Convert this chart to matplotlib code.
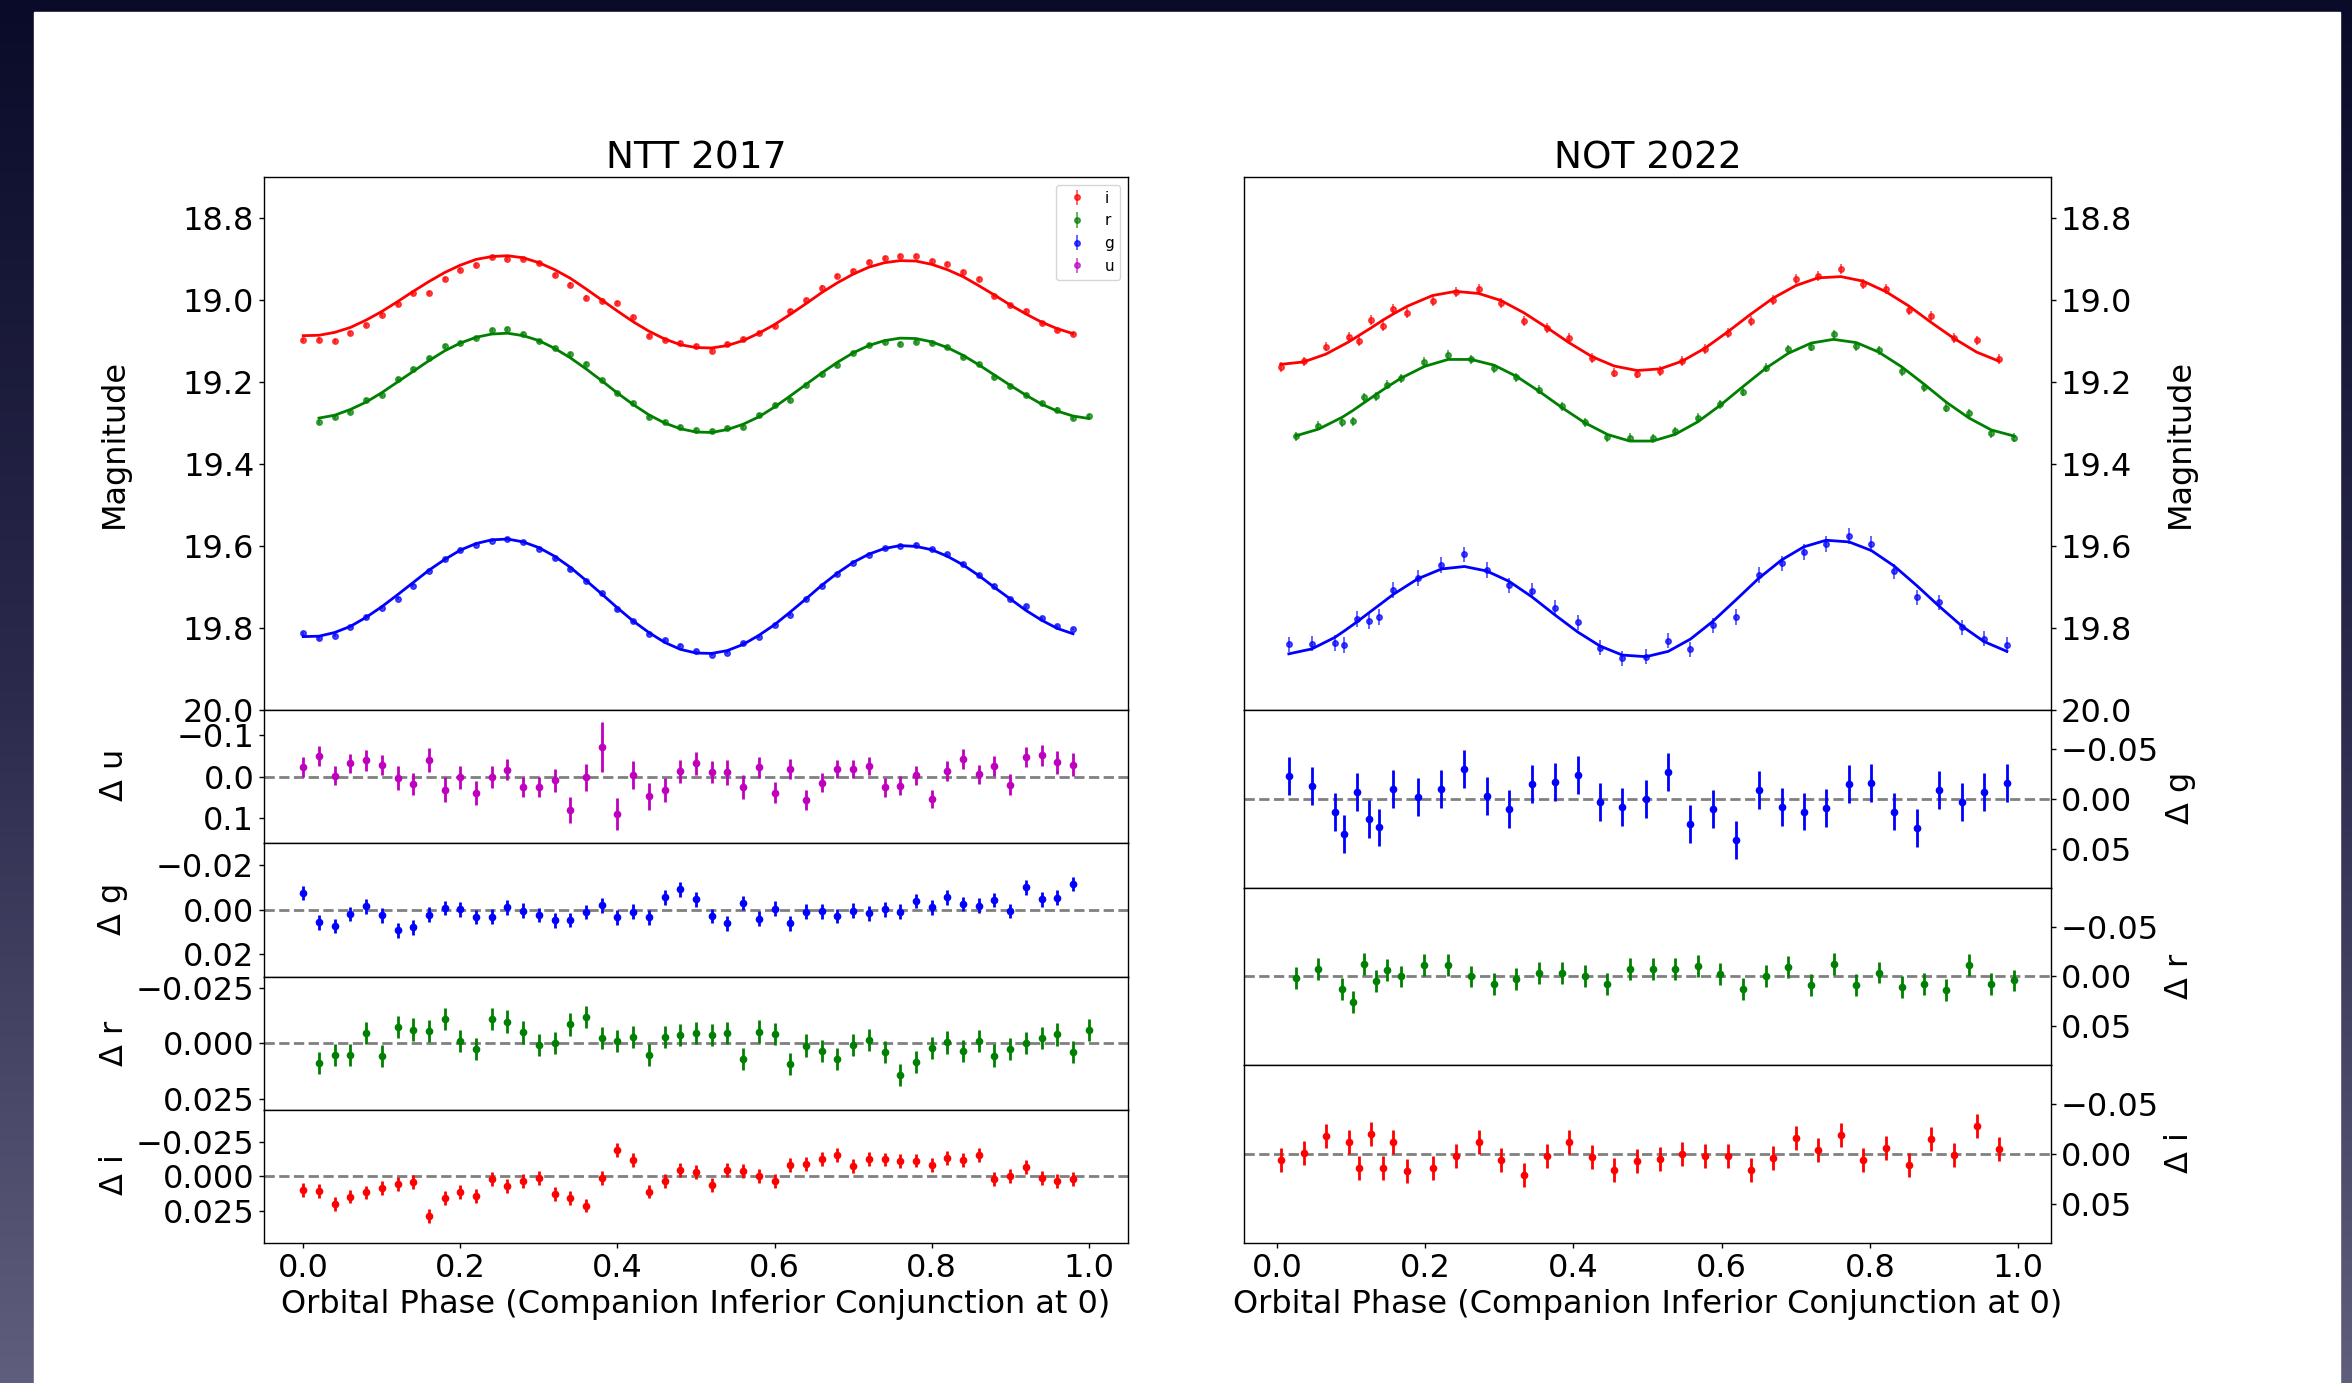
import numpy as np
import matplotlib
matplotlib.use('Agg')
import matplotlib.pyplot as plt
from matplotlib.patches import Rectangle
from matplotlib.colors import LinearSegmentedColormap

# ---------------- NTT 2017 (phase bins of 0.02) ----------------
ntt_phase = [0.00, 0.02, 0.04, 0.06, 0.08, 0.10, 0.12, 0.14, 0.16, 0.18,
             0.20, 0.22, 0.24, 0.26, 0.28, 0.30, 0.32, 0.34, 0.36, 0.38,
             0.40, 0.42, 0.44, 0.46, 0.48, 0.50, 0.52, 0.54, 0.56, 0.58,
             0.60, 0.62, 0.64, 0.66, 0.68, 0.70, 0.72, 0.74, 0.76, 0.78,
             0.80, 0.82, 0.84, 0.86, 0.88, 0.90, 0.92, 0.94, 0.96, 0.98]
# r band bins run 0.02 .. 1.00
ntt_phase_r = [0.02, 0.04, 0.06, 0.08, 0.10, 0.12, 0.14, 0.16, 0.18, 0.20,
               0.22, 0.24, 0.26, 0.28, 0.30, 0.32, 0.34, 0.36, 0.38, 0.40,
               0.42, 0.44, 0.46, 0.48, 0.50, 0.52, 0.54, 0.56, 0.58, 0.60,
               0.62, 0.64, 0.66, 0.68, 0.70, 0.72, 0.74, 0.76, 0.78, 0.80,
               0.82, 0.84, 0.86, 0.88, 0.90, 0.92, 0.94, 0.96, 0.98, 1.00]

ntt_i_model = [19.087, 19.086, 19.079, 19.067, 19.049, 19.028, 19.004, 18.979, 18.955, 18.933,
               18.915, 18.901, 18.894, 18.892, 18.897, 18.909, 18.926, 18.947, 18.973, 19.000,
               19.027, 19.053, 19.076, 19.095, 19.109, 19.116, 19.117, 19.111, 19.099, 19.081,
               19.060, 19.035, 19.009, 18.982, 18.958, 18.937, 18.920, 18.909, 18.904, 18.905,
               18.913, 18.926, 18.943, 18.965, 18.988, 19.012, 19.034, 19.054, 19.070, 19.082]
ntt_r_model = [19.288, 19.281, 19.267, 19.249, 19.226, 19.200, 19.174, 19.148, 19.124, 19.105,
               19.091, 19.083, 19.081, 19.087, 19.099, 19.118, 19.141, 19.168, 19.197, 19.227,
               19.255, 19.280, 19.300, 19.314, 19.322, 19.323, 19.316, 19.303, 19.285, 19.261,
               19.234, 19.206, 19.178, 19.152, 19.129, 19.111, 19.099, 19.093, 19.094, 19.102,
               19.116, 19.135, 19.158, 19.183, 19.208, 19.232, 19.254, 19.271, 19.283, 19.289]
ntt_g_model = [19.821, 19.820, 19.811, 19.796, 19.774, 19.748, 19.719, 19.689, 19.659, 19.633,
               19.610, 19.594, 19.585, 19.583, 19.590, 19.604, 19.625, 19.652, 19.684, 19.717,
               19.751, 19.783, 19.811, 19.835, 19.852, 19.861, 19.862, 19.855, 19.840, 19.818,
               19.792, 19.761, 19.729, 19.696, 19.666, 19.640, 19.620, 19.606, 19.599, 19.601,
               19.609, 19.625, 19.646, 19.672, 19.701, 19.729, 19.757, 19.781, 19.801, 19.814]

# residuals (data - model)
ntt_u_res = [-0.023, -0.049, -0.002, -0.032, -0.039, -0.028, 0.003, 0.018, -0.040, 0.031,
             0.002, 0.039, 0.001, -0.017, 0.026, 0.024, 0.009, 0.080, 0.002, -0.072,
             0.090, -0.004, 0.047, 0.032, -0.013, -0.032, -0.011, -0.011, 0.024, -0.022,
             0.039, -0.019, 0.056, 0.015, -0.018, -0.019, -0.026, 0.026, 0.022, -0.003,
             0.054, -0.013, -0.043, -0.006, -0.025, 0.019, -0.047, -0.051, -0.034, -0.029]
ntt_u_err = [0.025, 0.024, 0.023, 0.023, 0.026, 0.025, 0.028, 0.026, 0.028, 0.030,
             0.027, 0.028, 0.027, 0.025, 0.024, 0.024, 0.028, 0.032, 0.033, 0.060,
             0.039, 0.033, 0.032, 0.028, 0.028, 0.027, 0.027, 0.030, 0.029, 0.026,
             0.025, 0.024, 0.024, 0.023, 0.022, 0.022, 0.021, 0.022, 0.023, 0.023,
             0.022, 0.024, 0.024, 0.023, 0.024, 0.026, 0.024, 0.026, 0.027, 0.027]
ntt_g_res = [-0.0076, 0.0056, 0.0073, 0.0018, -0.0016, 0.0024, 0.0092, 0.0079, 0.0021, -0.0008,
             -0.0003, 0.0032, 0.0031, -0.0011, 0.0003, 0.0023, 0.0047, 0.0045, 0.0010, -0.0021,
             0.0034, 0.0008, 0.0034, -0.0056, -0.0092, -0.0047, 0.0027, 0.0060, -0.0031, 0.0040,
             -0.0005, 0.0061, 0.0008, 0.0006, 0.0027, 0.0003, 0.0016, -0.0002, 0.0008, -0.0040,
             -0.0011, -0.0056, -0.0026, -0.0019, -0.0044, 0.0005, -0.0102, -0.0047, -0.0055, -0.0116]
ntt_r_res = [0.0089, 0.0052, 0.0052, -0.0044, 0.0058, -0.0071, -0.0061, -0.0055, -0.0108, -0.0010,
             0.0027, -0.0108, -0.0097, -0.0048, 0.0008, 0.0000, -0.0084, -0.0116, -0.0023, -0.0010,
             -0.0027, 0.0055, -0.0029, -0.0037, -0.0044, -0.0037, -0.0045, 0.0071, -0.0052, -0.0042,
             0.0095, 0.0011, 0.0037, 0.0071, 0.0008, -0.0013, 0.0040, 0.0142, 0.0085, 0.0021,
             -0.0003, 0.0037, -0.0008, 0.0056, 0.0027, 0.0000, -0.0023, -0.0039, 0.0040, -0.0058]
ntt_i_res = [0.0096, 0.0104, 0.0202, 0.0145, 0.0116, 0.0085, 0.0052, 0.0039, 0.0285, 0.0155,
             0.0111, 0.0140, 0.0018, 0.0072, 0.0034, 0.0010, 0.0129, 0.0153, 0.0210, 0.0013,
             -0.0189, -0.0119, 0.0109, 0.0031, -0.0044, -0.0031, 0.0062, -0.0047, -0.0039, 0.0000,
             0.0036, -0.0083, -0.0088, -0.0124, -0.0155, -0.0072, -0.0124, -0.0122, -0.0109, -0.0114,
             -0.0083, -0.0132, -0.0116, -0.0153, 0.0018, -0.0003, -0.0067, 0.0013, 0.0036, 0.0018]
ntt_g_err = 0.0033
ntt_r_err = 0.005
ntt_i_err = 0.005

# ---------------- NOT 2022 ----------------
not_i_phase = [0.005, 0.036, 0.066, 0.097, 0.111, 0.127, 0.143, 0.157, 0.176, 0.210,
               0.241, 0.272, 0.302, 0.333, 0.364, 0.394, 0.425, 0.455, 0.486, 0.517,
               0.547, 0.578, 0.608, 0.639, 0.669, 0.700, 0.730, 0.761, 0.791, 0.822,
               0.853, 0.883, 0.913, 0.944, 0.974]
not_i_model = [19.157, 19.151, 19.132, 19.102, 19.086, 19.068, 19.049, 19.034, 19.015, 18.989,
               18.979, 18.984, 19.001, 19.031, 19.067, 19.104, 19.138, 19.161, 19.172, 19.168,
               19.149, 19.117, 19.078, 19.035, 18.996, 18.965, 18.946, 18.943, 18.954, 18.980,
               19.015, 19.055, 19.093, 19.127, 19.149]
not_i_res = [0.0062, -0.0011, -0.0185, -0.0124, 0.0142, -0.0200, 0.0142, -0.0120, 0.0171, 0.0138,
             0.0018, -0.0120, 0.0055, 0.0204, 0.0018, -0.0124, 0.0025, 0.0160, 0.0073, 0.0047,
             -0.0004, 0.0015, 0.0015, 0.0156, 0.0036, -0.0160, -0.0044, -0.0193, 0.0062, -0.0062,
             0.0105, -0.0153, 0.0007, -0.0284, -0.0047]

not_r_phase = [0.026, 0.056, 0.088, 0.102, 0.118, 0.134, 0.148, 0.167, 0.199, 0.231,
               0.262, 0.293, 0.323, 0.354, 0.385, 0.415, 0.446, 0.476, 0.507, 0.537,
               0.568, 0.598, 0.629, 0.660, 0.690, 0.721, 0.751, 0.782, 0.812, 0.843,
               0.873, 0.903, 0.934, 0.964, 0.995]
not_r_model = [19.331, 19.315, 19.286, 19.270, 19.250, 19.230, 19.213, 19.191, 19.162, 19.145,
               19.145, 19.159, 19.186, 19.223, 19.263, 19.299, 19.328, 19.344, 19.344, 19.328,
               19.297, 19.257, 19.211, 19.166, 19.130, 19.105, 19.096, 19.104, 19.127, 19.163,
               19.205, 19.249, 19.288, 19.317, 19.332]
not_r_res = [0.0014, -0.0079, 0.0126, 0.0256, -0.0130, 0.0043, -0.0065, 0.0000, -0.0119, -0.0116,
             0.0000, 0.0079, 0.0022, -0.0036, -0.0036, -0.0007, 0.0072, -0.0079, -0.0072, -0.0076,
             -0.0101, -0.0022, 0.0123, -0.0007, -0.0094, 0.0087, -0.0123, 0.0087, -0.0040, 0.0105,
             0.0079, 0.0134, -0.0119, 0.0079, 0.0040]

not_g_phase = [0.016, 0.047, 0.078, 0.091, 0.108, 0.124, 0.138, 0.157, 0.190, 0.222,
               0.253, 0.283, 0.313, 0.344, 0.375, 0.406, 0.436, 0.466, 0.498, 0.528,
               0.558, 0.588, 0.619, 0.650, 0.681, 0.711, 0.741, 0.772, 0.802, 0.833,
               0.863, 0.893, 0.924, 0.954, 0.985]
not_g_model = [19.863, 19.851, 19.823, 19.807, 19.785, 19.763, 19.744, 19.718, 19.680, 19.656,
               19.650, 19.661, 19.686, 19.724, 19.768, 19.810, 19.844, 19.866, 19.870, 19.857,
               19.827, 19.784, 19.732, 19.679, 19.634, 19.602, 19.586, 19.590, 19.611, 19.649,
               19.696, 19.746, 19.795, 19.833, 19.857]
not_g_res = [-0.0229, -0.0127, 0.0135, 0.0349, -0.0065, 0.0200, 0.0287, -0.0102, -0.0022, -0.0102,
             -0.0295, -0.0029, 0.0102, -0.0153, -0.0164, -0.0236, 0.0036, 0.0080, 0.0000, -0.0265,
             0.0251, 0.0098, 0.0415, -0.0084, 0.0084, 0.0127, 0.0091, -0.0149, -0.0160, 0.0127,
             0.0291, -0.0084, 0.0036, -0.0073, -0.0160]
not_g_err = 0.019
not_r_err = 0.011
not_i_err = 0.012

FS = 23
plt.rcParams['font.size'] = FS
plt.rcParams['axes.linewidth'] = 1.0
plt.rcParams['xtick.major.width'] = 1.0
plt.rcParams['ytick.major.width'] = 1.0

W, H = 2352, 1383
fig = plt.figure(figsize=(W / 100, H / 100), dpi=100)

# slide background: dark gradient with a white sheet on it
bg = fig.add_axes([0, 0, 1, 1], zorder=-10)
slide = LinearSegmentedColormap.from_list('slide', ['#0a0a29', '#2b2a4d', '#5f5e7c'])
bg.imshow(np.linspace(0, 1, 256).reshape(-1, 1), aspect='auto', cmap=slide,
          extent=[0, 1, 0, 1], origin='upper')
bg.add_patch(Rectangle((34 / W, 0), (2340 - 34) / W, 1 - 12 / H,
                       transform=bg.transAxes, color='white'))
bg.set_xlim(0, 1)
bg.set_ylim(0, 1)
bg.set_axis_off()

top = 1 - 177 / H
bottom = 1 - 1243 / H
gsL = fig.add_gridspec(5, 1, left=264 / W, right=1128 / W, top=top, bottom=bottom,
                       hspace=0, height_ratios=[4, 1, 1, 1, 1])
gsR = fig.add_gridspec(4, 1, left=1244 / W, right=2051 / W, top=top, bottom=bottom,
                       hspace=0, height_ratios=[3, 1, 1, 1])

main_kw = dict(fmt='o', ms=4, elinewidth=1.2, capsize=0, alpha=0.7)
res_kw = dict(fmt='o', ms=4.5, elinewidth=2, capsize=0)


def resid_panel(ax, x, res, err, color, label, lim, ticks):
    ax.errorbar(x, res, yerr=err, color=color, **res_kw)
    ax.axhline(0, color='grey', ls='--', lw=2, zorder=0)
    ax.set_ylim(lim, -lim)
    ax.set_yticks(ticks)
    ax.set_ylabel(label)


# ---------------- left column ----------------
axL = fig.add_subplot(gsL[0])
axL.plot(ntt_phase, ntt_i_model, color='r', lw=2)
axL.plot(ntt_phase_r, ntt_r_model, color='g', lw=2)
axL.plot(ntt_phase, ntt_g_model, color='b', lw=2)
hi = axL.errorbar(ntt_phase, np.add(ntt_i_model, ntt_i_res), yerr=ntt_i_err, color='r', label='i', **main_kw)
hr = axL.errorbar(ntt_phase_r, np.add(ntt_r_model, ntt_r_res), yerr=ntt_r_err, color='g', label='r', **main_kw)
hg = axL.errorbar(ntt_phase, np.add(ntt_g_model, ntt_g_res), yerr=ntt_g_err, color='b', label='g', **main_kw)
# u light curve is fainter than the plotted range, only its legend entry shows
hu = axL.errorbar([np.nan], [np.nan], yerr=[np.nan], color='m', label='u', **main_kw)
axL.legend(handles=[hi, hr, hg, hu], loc='upper right', fontsize=11)
axL.set_ylim(20.0, 18.7)
axL.set_yticks([18.8, 19.0, 19.2, 19.4, 19.6, 19.8, 20.0])
axL.set_ylabel('Magnitude')
axL.set_title('NTT 2017', fontsize=27)

left_axes = [axL]
specs = [(ntt_phase, ntt_u_res, ntt_u_err, 'm', '$\\Delta$ u', 0.16, [-0.1, 0.0, 0.1]),
         (ntt_phase, ntt_g_res, ntt_g_err, 'b', '$\\Delta$ g', 0.03, [-0.02, 0.0, 0.02]),
         (ntt_phase_r, ntt_r_res, ntt_r_err, 'g', '$\\Delta$ r', 0.03, [-0.025, 0.0, 0.025]),
         (ntt_phase, ntt_i_res, ntt_i_err, 'r', '$\\Delta$ i', 0.048, [-0.025, 0.0, 0.025])]
for k, (x, res, err, c, lab, lim, ticks) in enumerate(specs):
    ax = fig.add_subplot(gsL[k + 1], sharex=axL)
    resid_panel(ax, x, res, err, c, lab, lim, ticks)
    left_axes.append(ax)

# ---------------- right column ----------------
axR = fig.add_subplot(gsR[0])
axR.plot(not_i_phase, not_i_model, color='r', lw=2)
axR.plot(not_r_phase, not_r_model, color='g', lw=2)
axR.plot(not_g_phase, not_g_model, color='b', lw=2)
axR.errorbar(not_i_phase, np.add(not_i_model, not_i_res), yerr=not_i_err, color='r', **main_kw)
axR.errorbar(not_r_phase, np.add(not_r_model, not_r_res), yerr=not_r_err, color='g', **main_kw)
axR.errorbar(not_g_phase, np.add(not_g_model, not_g_res), yerr=not_g_err, color='b', **main_kw)
axR.set_ylim(20.0, 18.7)
axR.set_yticks([18.8, 19.0, 19.2, 19.4, 19.6, 19.8, 20.0])
axR.set_ylabel('Magnitude')
axR.set_title('NOT 2022', fontsize=27)

right_axes = [axR]
specs = [(not_g_phase, not_g_res, not_g_err, 'b', '$\\Delta$ g'),
         (not_r_phase, not_r_res, not_r_err, 'g', '$\\Delta$ r'),
         (not_i_phase, not_i_res, not_i_err, 'r', '$\\Delta$ i')]
for k, (x, res, err, c, lab) in enumerate(specs):
    ax = fig.add_subplot(gsR[k + 1], sharex=axR)
    resid_panel(ax, x, res, err, c, lab, 0.089, [-0.05, 0.0, 0.05])
    right_axes.append(ax)

for ax in right_axes:
    ax.yaxis.tick_right()
    ax.yaxis.set_label_position('right')

for col in (left_axes, right_axes):
    for ax in col[:-1]:
        ax.tick_params(labelbottom=False)
    col[-1].set_xlabel('Orbital Phase (Companion Inferior Conjunction at 0)')

fig.align_ylabels(left_axes)
fig.align_ylabels(right_axes)

fig.savefig('out.png', dpi=100)
